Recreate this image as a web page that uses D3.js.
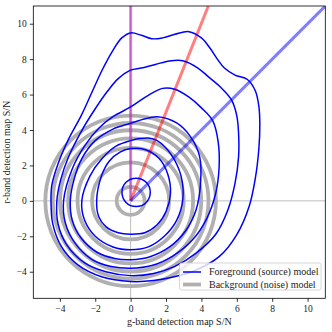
<!DOCTYPE html>
<html><head><meta charset="utf-8">
<script src="https://cdn.jsdelivr.net/npm/d3@7"></script>
<style>body{margin:0;background:#fff}svg{display:block}</style>
</head><body>
<svg id="c" width="332" height="332"></svg>
<script>
// ---- data ----
const xTicks = [-4,-2,0,2,4,6,8,10];
const yTicks = [-4,-2,0,2,4,6,8,10];
const xLabel = "g-band detection map S/N";
const yLabel = "r-band detection map S/N";
const legendLabels = ["Foreground (source) model","Background (noise) model"];
// background (noise) model contour radii
const noiseRadii = [0.79, 2.18, 3.0, 3.53, 3.99, 4.4, 4.82];
// foreground (source) model contours, [g, r] points
const fgSmall = [[0.31,1.28],[-0.26,1.05],[-0.49,0.48],[-0.26,-0.09],[0.31,-0.32],[0.88,-0.09],[1.11,0.48],[0.88,1.05]];
const fg1 = [[0,2.95],[-0.6,2.75],[-1.2,2.25],[-1.65,1.4],[-1.92,0],[-1.8,-0.9],[-1.4,-1.45],[-0.7,-1.8],[0,-1.88],[0.8,-1.8],[1.5,-1.35],[2.0,-0.6],[2.25,0.4],[2.1,1.5],[1.6,2.4],[0.8,2.9]];
const fg2 = [[0,3.4],[-0.8,3.1],[-1.6,2.4],[-2.3,1.4],[-2.76,0],[-2.6,-1.1],[-2.0,-2.0],[-1.0,-2.6],[0,-2.76],[1.0,-2.6],[1.9,-2.0],[2.6,-1.1],[2.95,0.1],[2.85,1.4],[2.3,2.6],[1.5,3.4],[1.0,3.55],[0.5,3.52]];
const fg3 = [[0,4.38],[-1.0,4.05],[-2.0,3.4],[-2.75,2.4],[-3.2,1.2],[-3.41,0],[-3.3,-1.1],[-2.8,-2.1],[-1.9,-2.9],[-0.9,-3.25],[0,-3.32],[1.1,-3.15],[2.2,-2.6],[3.1,-1.7],[3.7,-0.5],[3.95,1.0],[3.9,2.5],[3.4,3.6],[2.6,4.4],[1.5,4.75],[0.7,4.6]];
const fg4 = [[0,5.3],[-1.0,4.75],[-1.8,4.1],[-2.6,3.1],[-3.3,1.8],[-3.79,0],[-3.7,-1.2],[-3.2,-2.3],[-2.2,-3.3],[-1.1,-3.7],[0,-3.8],[1.2,-3.65],[2.4,-3.1],[3.5,-2.2],[4.3,-1.0],[4.8,0.4],[5.0,1.9],[4.95,3.3],[4.65,4.5],[4.0,5.25],[3.3,5.85],[2.5,6.3],[1.8,6.35],[0.9,5.9]];
const fg5 = [[0,7.38],[-0.7,6.9],[-1.3,6.2],[-2.0,5.2],[-2.8,3.9],[-3.5,2.5],[-3.95,1.2],[-4.17,0],[-4.1,-1.3],[-3.6,-2.5],[-2.6,-3.5],[-1.4,-4.0],[0,-4.22],[1.3,-4.1],[2.5,-3.7],[3.7,-2.95],[4.8,-1.9],[5.5,-0.5],[5.9,1.0],[6.1,2.5],[6.1,3.8],[6.0,4.8],[5.7,5.7],[5.1,6.4],[4.4,7.0],[3.8,7.5],[3.0,7.9],[2.2,7.9],[1.4,7.7],[0.6,7.5]];
const fg6 = [[0,9.48],[-0.5,9.2],[-1.0,8.5],[-1.6,7.4],[-2.2,6.1],[-2.8,4.8],[-3.5,3.5],[-4.1,2.1],[-4.45,0.9],[-4.5,0],[-4.4,-1.3],[-3.9,-2.6],[-3.0,-3.6],[-1.6,-4.3],[0,-4.55],[1.3,-4.5],[2.4,-4.3],[3.7,-3.9],[5.0,-3.15],[6.0,-1.9],[6.7,-0.3],[7.05,1.3],[7.25,3.0],[7.3,4.3],[7.25,5.3],[7.05,6.2],[6.6,6.85],[5.9,7.1],[5.3,7.5],[4.9,8.0],[4.5,8.6],[4.0,9.2],[3.3,9.55],[2.5,9.4],[1.8,9.2],[1.2,9.15],[0.6,9.35]];
const fgContours = [fgSmall, fg1, fg2, fg3, fg4, fg5, fg6];
// SED rays from origin: [end g, end r]
const rays = [
  {name:"r only", end:[0, 11], color:"rgba(191,0,191,0.5)"},
  {name:"red", end:[4.39, 11], color:"rgba(255,0,0,0.5)"},
  {name:"flat", end:[11, 11], color:"rgba(0,0,255,0.5)"}
];
const xDomain = [-5.5, 11], yDomain = [-5.5, 11];

// ---- layout ----
const L = 33.3, R = 325.3, T = 6, B = 298.3;
const svg = d3.select("#c");
const x = d3.scaleLinear().domain(xDomain).range([L, R]);
const y = d3.scaleLinear().domain(yDomain).range([B, T]);
const font = "'Liberation Serif','Times New Roman',serif";

svg.append("defs").append("clipPath").attr("id","clip")
  .append("rect").attr("x",L).attr("y",T).attr("width",R-L).attr("height",B-T);
const g = svg.append("g").attr("clip-path","url(#clip)");

// zero lines
g.append("line").attr("x1",x(xDomain[0])).attr("x2",x(xDomain[1])).attr("y1",y(0)).attr("y2",y(0))
  .attr("stroke","#bdbdbd").attr("stroke-width",1);
g.append("line").attr("x1",x(0)).attr("x2",x(0)).attr("y1",y(yDomain[0])).attr("y2",y(yDomain[1]))
  .attr("stroke","#bdbdbd").attr("stroke-width",1);

// noise circles
g.selectAll("circle.noise").data(noiseRadii).join("circle")
  .attr("cx", x(0)).attr("cy", y(0))
  .attr("r", d => x(d) - x(0))
  .attr("fill","none").attr("stroke","#b0b0b0").attr("stroke-width",3.8);

// rays
g.selectAll("line.ray").data(rays).join("line")
  .attr("x1", x(0)).attr("y1", y(0))
  .attr("x2", d => x(d.end[0])).attr("y2", d => y(d.end[1]))
  .attr("stroke", d => d.color).attr("stroke-width",3);

// foreground contours
const line = d3.line().x(d => x(d[0])).y(d => y(d[1])).curve(d3.curveCatmullRomClosed.alpha(0.5));
g.selectAll("path.fg").data(fgContours).join("path")
  .attr("d", line).attr("fill","none").attr("stroke","#0000ff").attr("stroke-width",1.5);

// axes
const xAxis = d3.axisBottom(x).tickValues(xTicks).tickSize(3.5).tickPadding(3)
  .tickFormat(d => d < 0 ? "\u2212" + Math.abs(d) : d);
const yAxis = d3.axisLeft(y).tickValues(yTicks).tickSize(3.5).tickPadding(3)
  .tickFormat(d => d < 0 ? "\u2212" + Math.abs(d) : d);
const gx = svg.append("g").attr("transform",`translate(0,${B})`).call(xAxis);
const gy = svg.append("g").attr("transform",`translate(${L},0)`).call(yAxis);
[gx, gy].forEach(a => {
  a.select(".domain").remove();
  a.selectAll("line").attr("stroke","#000").attr("stroke-width",0.8);
  a.selectAll("text").attr("font-family",font).attr("font-size",9.5).attr("fill","#222");
});
svg.append("rect").attr("x",L).attr("y",T).attr("width",R-L).attr("height",B-T)
  .attr("fill","none").attr("stroke","#000").attr("stroke-width",0.8);

svg.append("text").attr("x",(L+R)/2).attr("y",325).attr("text-anchor","middle")
  .attr("font-family",font).attr("font-size",10).attr("fill","#222").text(xLabel);
svg.append("text").attr("transform",`translate(10,${(T+B)/2}) rotate(-90)`).attr("text-anchor","middle")
  .attr("font-family",font).attr("font-size",10).attr("fill","#222").text(yLabel);

// legend
const lg = svg.append("g");
lg.append("rect").attr("x",179.5).attr("y",263).attr("width",141.5).attr("height",27).attr("rx",2)
  .attr("fill","#fff").attr("fill-opacity",0.8).attr("stroke","#ccc").attr("stroke-width",0.8);
const legStyles = [{c:"#0000ff", w:1.5},{c:"#b0b0b0", w:3.8}];
legendLabels.forEach((t,i) => {
  const yy = 272 + i*12.5;
  lg.append("line").attr("x1",183).attr("x2",201).attr("y1",yy).attr("y2",yy)
    .attr("stroke",legStyles[i].c).attr("stroke-width",legStyles[i].w);
  lg.append("text").attr("x",209).attr("y",yy+3.3).attr("font-family",font).attr("font-size",10)
    .attr("fill","#222").text(t);
});
</script>
</body></html>
